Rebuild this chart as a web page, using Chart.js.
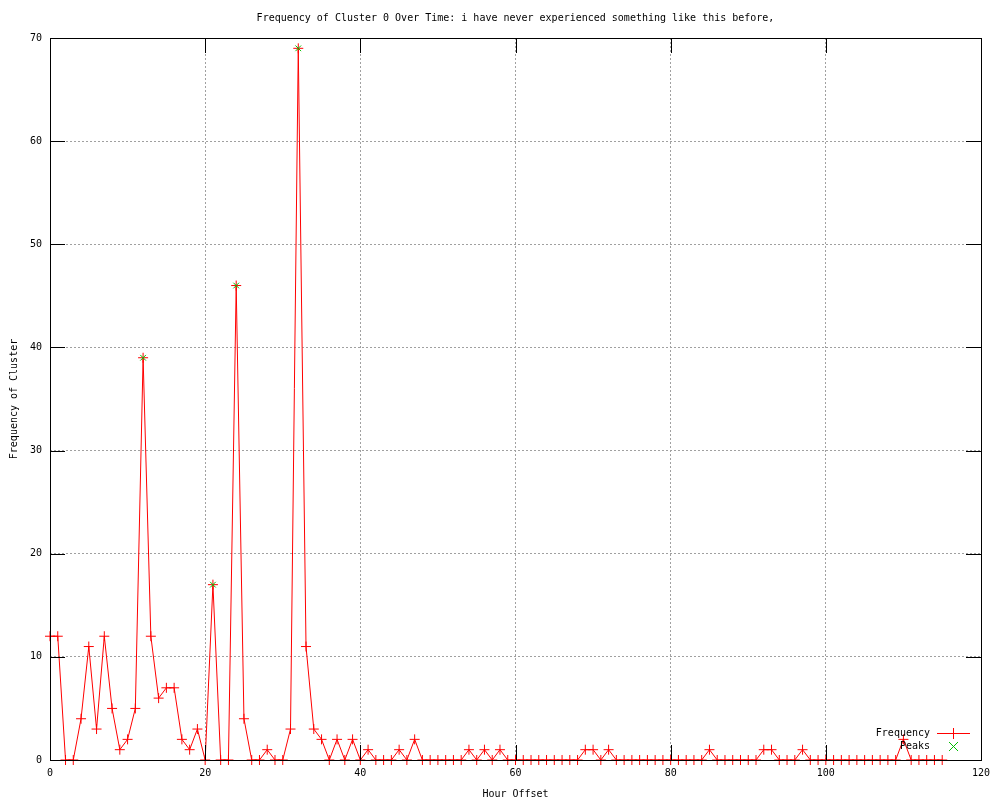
<!DOCTYPE html>
<html>
<head>
<meta charset="utf-8">
<script src="https://cdn.jsdelivr.net/npm/chart.js@4/dist/chart.umd.min.js"></script>
<style>
  html, body { margin: 0; padding: 0; background: #fff; }
</style>
</head>
<body>
<canvas id="clusterChart" width="1000" height="800"></canvas>
<script>
const chartTitle = 'Frequency of Cluster 0 Over Time: i have never experienced something like this before,';

// hour offsets 0..115
const hours = [
  0, 1, 2, 3, 4, 5, 6, 7, 8, 9, 10, 11, 12, 13, 14, 15, 16, 17, 18, 19,
  20, 21, 22, 23, 24, 25, 26, 27, 28, 29, 30, 31, 32, 33, 34, 35, 36, 37, 38, 39,
  40, 41, 42, 43, 44, 45, 46, 47, 48, 49, 50, 51, 52, 53, 54, 55, 56, 57, 58, 59,
  60, 61, 62, 63, 64, 65, 66, 67, 68, 69, 70, 71, 72, 73, 74, 75, 76, 77, 78, 79,
  80, 81, 82, 83, 84, 85, 86, 87, 88, 89, 90, 91, 92, 93, 94, 95, 96, 97, 98, 99,
  100, 101, 102, 103, 104, 105, 106, 107, 108, 109, 110, 111, 112, 113, 114, 115
];
const frequency = [
  12, 12, 0, 0, 4, 11, 3, 12, 5, 1, 2, 5, 39, 12, 6, 7, 7, 2, 1, 3,
  0, 17, 0, 0, 46, 4, 0, 0, 1, 0, 0, 3, 69, 11, 3, 2, 0, 2, 0, 2,
  0, 1, 0, 0, 0, 1, 0, 2, 0, 0, 0, 0, 0, 0, 1, 0, 1, 0, 1, 0,
  0, 0, 0, 0, 0, 0, 0, 0, 0, 1, 1, 0, 1, 0, 0, 0, 0, 0, 0, 0,
  0, 0, 0, 0, 0, 1, 0, 0, 0, 0, 0, 0, 1, 1, 0, 0, 0, 1, 0, 0,
  0, 0, 0, 0, 0, 0, 0, 0, 0, 0, 2, 0, 0, 0, 0, 0
];
const peakHours = [12, 21, 24, 32];
const peakValues = [39, 17, 46, 69];

const xTicks = [0, 20, 40, 60, 80, 100, 120];
const yTicks = [0, 10, 20, 30, 40, 50, 60, 70];

const RED = '#ff0000';
const GREEN = '#00c000';
const FONT = "'DejaVu Sans Mono', 'Liberation Mono', monospace";

Chart.defaults.font.family = FONT;
Chart.defaults.font.size = 10;
Chart.defaults.color = '#000';

// legend rows: label, colour, symbol, with line sample
const legendRows = [
  { label: 'Frequency', color: RED, symbol: 'cross', line: true, y: 733 },
  { label: 'Peaks', color: GREEN, symbol: 'x', line: false, y: 746 }
];

// gnuplot-ish frame, inward ticks, title and legend
const gnuplotFrame = {
  id: 'gnuplotFrame',
  afterDraw(chart) {
    const c = chart.ctx;
    const a = chart.chartArea;
    const xs = chart.scales.x, ys = chart.scales.y;
    const L = Math.round(a.left), R = Math.round(a.right);
    const T = Math.round(a.top), B = Math.round(a.bottom);
    const tick = 15;

    c.save();
    c.fillStyle = '#000';
    xTicks.forEach(v => {
      const px = Math.round(xs.getPixelForValue(v));
      c.fillRect(px, B - tick, 1, tick);
      c.fillRect(px, T, 1, tick);
    });
    yTicks.forEach(v => {
      const py = Math.round(ys.getPixelForValue(v));
      c.fillRect(L, py, tick, 1);
      c.fillRect(R - tick, py, tick, 1);
    });
    c.fillRect(L, T, R - L + 1, 1);
    c.fillRect(L, B, R - L + 1, 1);
    c.fillRect(L, T, 1, B - T + 1);
    c.fillRect(R, T, 1, B - T + 1);

    // title
    c.font = '10px ' + FONT;
    c.textAlign = 'center';
    c.textBaseline = 'middle';
    c.fillText(chartTitle, (a.left + a.right) / 2, 18);

    // legend
    const textX = 930, symX = 953;
    c.textAlign = 'right';
    legendRows.forEach(row => {
      c.fillStyle = '#000';
      c.fillText(row.label, textX, row.y);
      c.fillStyle = row.color;
      if (row.line) c.fillRect(937, row.y, 33, 1);
      if (row.symbol === 'cross') {
        c.fillRect(symX - 5, row.y, 11, 1);
        c.fillRect(symX, row.y - 5, 1, 11);
      } else {
        for (let k = -4; k <= 4; k++) {
          c.fillRect(symX + k, row.y + k, 1, 1);
          c.fillRect(symX + k, row.y - k, 1, 1);
        }
      }
    });
    c.restore();
  }
};

const chart = new Chart(document.getElementById('clusterChart'), {
  type: 'line',
  data: {
    datasets: [{
      label: 'Frequency',
      data: hours.map((h, i) => ({ x: h, y: frequency[i] })),
      borderColor: RED,
      backgroundColor: RED,
      borderWidth: 1,
      pointStyle: 'cross',
      pointRadius: 5,
      pointBorderWidth: 1,
      pointBorderColor: RED,
      tension: 0,
      fill: false,
      clip: false,
      order: 2
    }, {
      label: 'Peaks',
      data: peakHours.map((h, i) => ({ x: h, y: peakValues[i] })),
      borderColor: GREEN,
      backgroundColor: GREEN,
      showLine: false,
      pointStyle: 'crossRot',
      pointRadius: 4,
      pointBorderWidth: 1,
      pointBorderColor: GREEN,
      clip: false,
      order: 1
    }]
  },
  options: {
    responsive: false,
    animation: false,
    devicePixelRatio: 1,
    layout: { padding: { top: 38, right: 19, left: 0, bottom: 0 } },
    plugins: {
      legend: { display: false },
      title: { display: false },
      tooltip: { enabled: false }
    },
    scales: {
      x: {
        type: 'linear',
        min: 0,
        max: 120,
        afterBuildTicks: s => { s.ticks = xTicks.map(v => ({ value: v })); },
        afterFit: s => { s.height = 40; },
        ticks: { padding: 7, maxRotation: 0, color: '#000' },
        grid: { color: '#a0a0a0', drawTicks: false },
        border: { display: false, dash: [2, 2] },
        title: { display: true, text: 'Hour Offset', padding: { top: 1, bottom: 0 }, color: '#000' }
      },
      y: {
        type: 'linear',
        min: 0,
        max: 70,
        afterBuildTicks: s => { s.ticks = yTicks.map(v => ({ value: v })); },
        afterFit: s => { s.width = 50; },
        ticks: { padding: 8, color: '#000' },
        grid: { color: '#a0a0a0', drawTicks: false },
        border: { display: false, dash: [2, 2] },
        title: { display: true, text: 'Frequency of Cluster', padding: { top: 8, bottom: 0 }, color: '#000' }
      }
    }
  },
  plugins: [gnuplotFrame]
});
</script>
</body>
</html>
